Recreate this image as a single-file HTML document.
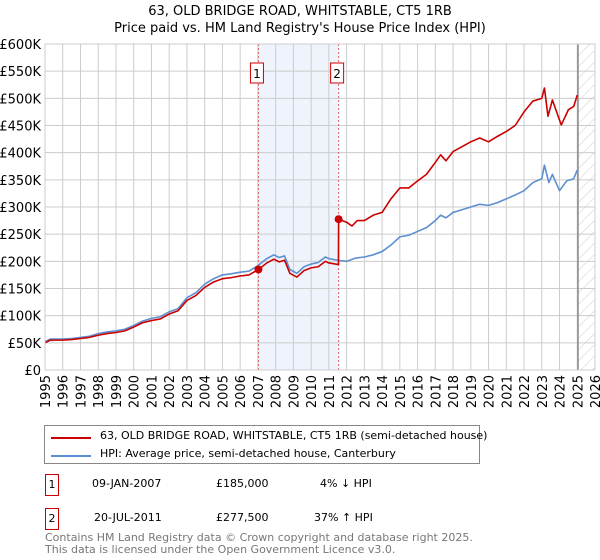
<!DOCTYPE html>
<html><head><meta charset="utf-8"><style>
body{margin:0;background:#fff;font-family:"DejaVu Sans","Liberation Sans",sans-serif;}
#wrap{position:relative;width:600px;height:560px;overflow:hidden;}
.t{position:absolute;font-size:11px;color:#000;white-space:nowrap;}
</style></head><body>
<div id="wrap">
<svg id="chart" width="600" height="420" style="position:absolute;left:0;top:0"></svg>
<div style="position:absolute;left:44px;top:425px;width:434px;height:37px;border:1px solid #888;">
 <div><div style="position:absolute;left:6px;top:11px;width:40px;height:2px;background:#cc0000"></div><span class="t" style="left:55px;top:3px">63, OLD BRIDGE ROAD, WHITSTABLE, CT5 1RB (semi-detached house)</span></div>
 <div><div style="position:absolute;left:6px;top:29px;width:40px;height:2px;background:#5b8fd0"></div><span class="t" style="left:55px;top:21px">HPI: Average price, semi-detached house, Canterbury</span></div>
</div>
<div>
 <div class="t" style="left:45px;top:474px;width:12px;height:20px;border:1px solid #cc0000;text-align:center;line-height:20px">1</div>
 <span class="t" style="left:92px;top:477px">09-JAN-2007</span><span class="t" style="left:216px;top:477px">£185,000</span><span class="t" style="left:320px;top:477px">4% ↓ HPI</span>
</div>
<div>
 <div class="t" style="left:45px;top:508px;width:12px;height:20px;border:1px solid #cc0000;text-align:center;line-height:20px">2</div>
 <span class="t" style="left:94px;top:511px">20-JUL-2011</span><span class="t" style="left:216px;top:511px">£277,500</span><span class="t" style="left:314px;top:511px">37% ↑ HPI</span>
</div>
<div class="t" style="left:45px;top:532px;color:#777;font-size:11px;line-height:11.5px">Contains HM Land Registry data © Crown copyright and database right 2025.<br>This data is licensed under the Open Government Licence v3.0.</div>
</div>
<script>
const yearTicks=[1995,1996,1997,1998,1999,2000,2001,2002,2003,2004,2005,2006,2007,2008,2009,2010,2011,2012,2013,2014,2015,2016,2017,2018,2019,2020,2021,2022,2023,2024,2025,2026];
const valueTicks=[0,50000,100000,150000,200000,250000,300000,350000,400000,450000,500000,550000,600000];
const valueLabels=["£0","£50K","£100K","£150K","£200K","£250K","£300K","£350K","£400K","£450K","£500K","£550K","£600K"];
const hpiYears=[1995,1995.3,1996,1996.5,1997,1997.5,1998,1998.5,1999,1999.5,2000,2000.5,2001,2001.5,2002,2002.5,2003,2003.5,2004,2004.5,2005,2005.5,2006,2006.5,2007,2007.5,2007.9,2008.2,2008.5,2008.8,2009.2,2009.6,2010,2010.4,2010.8,2011,2011.5,2012,2012.5,2013,2013.5,2014,2014.5,2015,2015.5,2016,2016.5,2017,2017.3,2017.6,2018,2018.5,2019,2019.5,2020,2020.5,2021,2021.5,2022,2022.5,2023,2023.15,2023.4,2023.6,2024,2024.4,2024.8,2025];
const hpiValues=[52000,57000,57000,58000,60000,62000,67000,70000,72000,75000,82000,90000,95000,98000,107000,113000,133000,142000,158000,168000,175000,177000,180000,182000,192000,205000,212000,207000,210000,185000,178000,190000,195000,198000,208000,205000,202000,200000,206000,208000,212000,218000,230000,245000,248000,255000,262000,275000,285000,280000,290000,295000,300000,305000,303000,308000,315000,322000,330000,345000,352000,377000,345000,360000,330000,348000,352000,368000];
const ppYears=[1995,1995.3,1996,1996.5,1997,1997.5,1998,1998.5,1999,1999.5,2000,2000.5,2001,2001.5,2002,2002.5,2003,2003.5,2004,2004.5,2005,2005.5,2006,2006.5,2007.03,2007.5,2007.9,2008.2,2008.5,2008.8,2009.2,2009.6,2010,2010.4,2010.8,2011,2011.54,2011.55,2012,2012.3,2012.6,2013,2013.5,2014,2014.5,2015,2015.5,2016,2016.5,2017,2017.3,2017.6,2018,2018.5,2019,2019.5,2020,2020.5,2021,2021.5,2022,2022.5,2023,2023.15,2023.35,2023.6,2024.1,2024.5,2024.8,2025];
const ppValues=[50000,55000,55000,56000,58000,60000,64000,67000,69000,72000,79000,87000,91000,94000,103000,109000,128000,137000,152000,162000,168000,170000,173000,175000,185000,197000,204000,199000,202000,178000,171000,183000,188000,190000,200000,197000,194000,277500,272000,265000,275000,275000,285000,290000,315000,335000,335000,348000,360000,382000,396000,385000,402000,411000,420000,427000,420000,430000,439000,450000,475000,495000,500000,519000,467000,497000,451000,479000,485000,506000];
const sales=[{x:2007.03,v:185000,n:"1"},{x:2011.55,v:277500,n:"2"}];
const NS="http://www.w3.org/2000/svg";
const svg=document.getElementById('chart');
const L=45,R=595,T=44,B=370,X0=1995,X1=2026,YMAX=600000;
const sx=y=>L+(y-X0)/(X1-X0)*(R-L);
const sy=v=>B-v/YMAX*(B-T);
function mk(tag,attrs){const e=document.createElementNS(NS,tag);for(const k in attrs)e.setAttribute(k,attrs[k]);svg.appendChild(e);return e;}
let sh=mk('rect',{x:sx(sales[0].x),y:T,width:sx(sales[1].x)-sx(sales[0].x),height:B-T,fill:'#eef3fc'});


let defs=mk('defs',{});defs.innerHTML='<pattern id="h" width="8" height="8" patternUnits="userSpaceOnUse" patternTransform="rotate(45)"><line x1="0" y1="0" x2="0" y2="8" stroke="#ccc" stroke-width="1"/></pattern>';
let hr=mk('rect',{x:sx(2025.04),y:T,width:R-sx(2025.04),height:B-T,fill:'url(#h)'});


yearTicks.forEach(y=>{let l=mk('line',{x1:sx(y),x2:sx(y),y1:T,y2:B,stroke:'#ccc'});


let t=mk('text',{x:0,y:0,transform:`translate(${sx(y)+5},${B+5}) rotate(-90)`,'text-anchor':'end','font-size':'13','font-family':'DejaVu Sans, sans-serif'});t.textContent=y;

});
valueTicks.forEach((v,i)=>{let l=mk('line',{x1:L,x2:R,y1:sy(v),y2:sy(v),stroke:'#ccc'});


let t=mk('text',{x:L-4,y:sy(v)+5,'text-anchor':'end','font-size':'13','font-family':'DejaVu Sans, sans-serif'});t.textContent=valueLabels[i];

});
let fl=mk('line',{x1:sx(2025.04),x2:sx(2025.04),y1:T,y2:B,stroke:'#888','stroke-width':1.5});


sales.forEach(s=>{let l=mk('line',{x1:sx(s.x),x2:sx(s.x),y1:T,y2:B,stroke:'#e06060','stroke-dasharray':'2,2'});


let r=mk('rect',{x:sx(s.x)-8,y:63,width:13,height:20,fill:'#fff',stroke:'#cc0000'});


let t=mk('text',{x:sx(s.x)-1.5,y:78,'text-anchor':'middle','font-size':'12','font-family':'DejaVu Sans, sans-serif'});t.textContent=s.n;

});
function line(xs,vs,c,name){let p=mk('polyline',{points:xs.map((x,i)=>sx(x)+','+sy(vs[i])).join(' '),fill:'none',stroke:c,'stroke-width':1.6,'stroke-linejoin':'round'});

}
line(hpiYears,hpiValues,'#5b8fd0','hpi-line');
line(ppYears,ppValues,'#cc0000','property-price-line');
sales.forEach(s=>{let c=mk('circle',{cx:sx(s.x),cy:sy(s.v),r:4,fill:'#cc0000'});

});
let frame=mk('rect',{x:L,y:T,width:R-L,height:B-T,fill:'none',stroke:'#ccc'});


let t1=mk('text',{x:300,y:15,'text-anchor':'middle','font-size':'13','font-family':'DejaVu Sans, sans-serif'});t1.textContent='63, OLD BRIDGE ROAD, WHITSTABLE, CT5 1RB';


let t2=mk('text',{x:300,y:32,'text-anchor':'middle','font-size':'13','font-family':'DejaVu Sans, sans-serif'});t2.textContent="Price paid vs. HM Land Registry's House Price Index (HPI)";


</script>
</body></html>
